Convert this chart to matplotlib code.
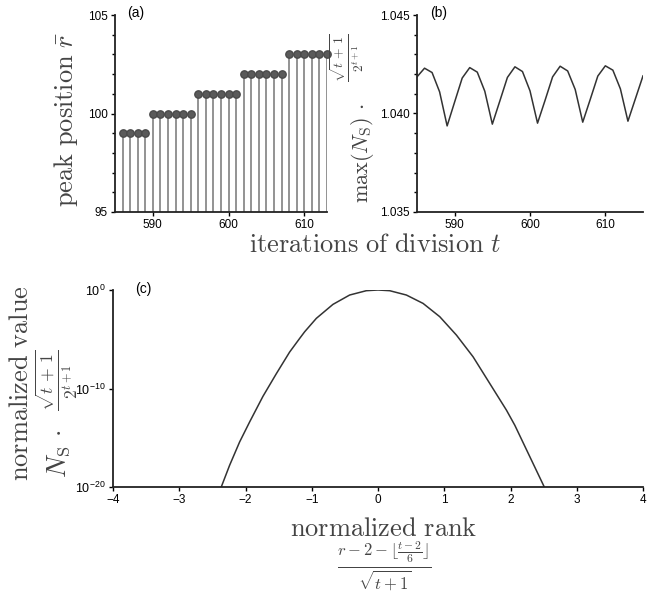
import numpy as np
import matplotlib
matplotlib.use("Agg")
import matplotlib.pyplot as plt
from matplotlib.ticker import MultipleLocator, FormatStrFormatter, NullLocator

plt.rcParams['font.family'] = ['Liberation Sans', 'DejaVu Sans']
plt.rcParams['mathtext.fontset'] = 'cm'

# (a) peak position per iteration
t_a = list(range(586, 614))
peak_a = [99, 99, 99, 99,
          100, 100, 100, 100, 100, 100,
          101, 101, 101, 101, 101, 101,
          102, 102, 102, 102, 102, 102,
          103, 103, 103, 103, 103, 103]

# (b) normalized maximum
t_b = list(range(585, 616))
max_b = [1.04186, 1.04230, 1.04208, 1.04110, 1.03937, 1.04059,
         1.04180, 1.04233, 1.04210, 1.04113, 1.03946, 1.04064,
         1.04183, 1.04237, 1.04213, 1.04115, 1.03951, 1.04067,
         1.04186, 1.04240, 1.04216, 1.04122, 1.03956, 1.04072,
         1.04190, 1.04242, 1.04220, 1.04125, 1.03961, 1.04076,
         1.04191]

rank_c = [-2.366, -2.24, -2.089, -1.938, -1.737, -1.535, -1.334, -1.183,
          -1.107, -0.931, -0.680, -0.428, -0.176, 0.0, 0.176, 0.428,
          0.680, 0.932, 1.184, 1.435, 1.687, 1.939, 2.065, 2.29, 2.51]
expo_c = [-20, -17.8, -15.43, -13.4, -10.8, -8.5, -6.3, -4.92,
          -4.24, -2.88, -1.46, -0.51, -0.07, 0.0, -0.07, -0.51,
          -1.36, -2.71, -4.58, -6.78, -9.49, -12.2, -13.73, -16.9, -20]

W, H = 656, 593
fig = plt.figure(figsize=(W / 100, H / 100), dpi=100)

def box(l, r, t, b):
    return [l / W, 1 - b / H, (r - l) / W, (b - t) / H]

def style(ax):
    for s in ['top', 'right']:
        ax.spines[s].set_visible(False)
    for s in ['left', 'bottom']:
        ax.spines[s].set_linewidth(1.3)
        ax.spines[s].set_color('#222222')
    ax.tick_params(which='major', direction='out', length=3, width=1, labelsize=8.5, pad=2)
    ax.tick_params(which='minor', direction='out', length=2, width=1)

def label(x, y, s, size, rot=0, ha='center', va='center'):
    # x, y in pixels from the top-left corner
    fig.text(x / W, 1 - y / H, s, rotation=rot, fontsize=size,
             color='#444444', ha=ha, va=va)

# panel (a)
ax1 = fig.add_axes(box(115, 327, 15, 212))
ml, sl, bl = ax1.stem(t_a, peak_a, bottom=95, basefmt=' ')
plt.setp(sl, color='#808080', linewidth=1.2)
plt.setp(ml, color='#5a5a5a', markersize=5.3, markeredgecolor='#4a4a4a', clip_on=False)
ax1.set_xlim(585, 613)
ax1.set_ylim(95, 105)
ax1.set_yticks([95, 100, 105])
ax1.set_xticks([590, 600, 610])
ax1.yaxis.set_minor_locator(MultipleLocator(1))
style(ax1)

# panel (b)
ax2 = fig.add_axes(box(417, 643, 15, 212))
ax2.plot(t_b, max_b, color='#333333', linewidth=1.1)
ax2.set_xlim(585, 615)
ax2.set_ylim(1.035, 1.045)
ax2.set_yticks([1.035, 1.040, 1.045])
ax2.yaxis.set_major_formatter(FormatStrFormatter('%.3f'))
ax2.yaxis.set_minor_locator(MultipleLocator(0.001))
ax2.set_xticks([590, 600, 610])
style(ax2)

# panel (c)
ax3 = fig.add_axes(box(113, 643, 290, 487))
ax3.plot(rank_c, 10.0 ** np.array(expo_c), color='#333333', linewidth=1.1)
ax3.set_yscale('log')
ax3.set_ylim(1e-20, 1)
ax3.set_yticks([1e-20, 1e-10, 1])
ax3.yaxis.set_minor_locator(NullLocator())
ax3.set_xlim(-4, 4)
ax3.set_xticks(range(-4, 5))
style(ax3)
ax3.tick_params(axis='y', labelsize=9)

# panel letters
fig.text(127 / W, 1 - 13 / H, '(a)', fontsize=10, ha='left', va='center')
fig.text(430 / W, 1 - 13 / H, '(b)', fontsize=10, ha='left', va='center')
fig.text(135 / W, 1 - 289 / H, '(c)', fontsize=10, ha='left', va='center')

frac_n = r'$\frac{\sqrt{t\,+\,1}}{2^{t+1}}$'

# axis labels
label(66, 120, r'$\mathrm{peak\ position}\ \bar{r}$', 19, rot=90)
label(363, 203, r'$\max(N_\mathrm{S})\,\cdot$', 16, rot=90, va='bottom')
label(347, 58, frac_n, 14, rot=90)
label(375, 245, r'$\mathrm{iterations\ of\ division}\ t$', 19)

label(21, 481, r'$\mathrm{normalized\ value}$', 19, rot=90, va='bottom')
label(59, 478, r'$N_\mathrm{S}\,\cdot$', 19, rot=90, va='bottom')
label(57, 380, frac_n, 18, rot=90)

label(384, 529, r'$\mathrm{normalized\ rank}$', 19)
label(384, 567, r'$\frac{r-2-\lfloor\frac{t-2}{6}\rfloor}{\sqrt{t+1}}$', 17)

fig.savefig('out.png', dpi=100)
